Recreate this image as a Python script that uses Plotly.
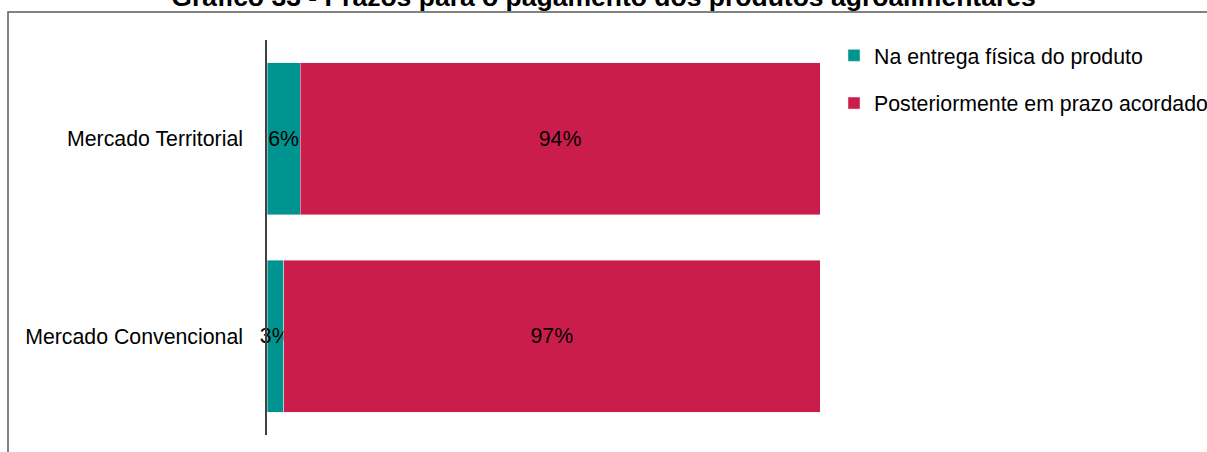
import plotly.graph_objects as go

# Data
categories = ["Mercado Territorial", "Mercado Convencional"]
na_entrega = [6, 3]
posteriormente = [94, 97]
series_names = ["Na entrega física do produto", "Posteriormente em prazo acordado"]
colors = ["#009490", "#CB1D4C"]
title_text = "Gráfico 33 - Prazos para o pagamento dos produtos agroalimentares"

FONT = "Liberation Sans, Arial, sans-serif"
FS = 21.3

fig = go.Figure()
for i, (name, vals) in enumerate(zip(series_names, [na_entrega, posteriormente])):
    fig.add_trace(go.Bar(
        y=categories,
        x=vals,
        name=name,
        orientation="h",
        marker=dict(color=colors[i], line=dict(color="rgba(235,235,235,0.8)", width=0.6)),
        text=[f"{v}%" for v in vals],
        textposition="inside",
        insidetextanchor="middle",
        textangle=0,
        cliponaxis=False,
        textfont=dict(family=FONT, size=FS, color="black"),
        legendgroup=f"g{i}",
        hoverinfo="skip",
    ))

W, H = 1207, 452
ml, mr, mt, mb = 267, 387, 40, 17
pw, ph = W - ml - mr, H - mt - mb

# outer frame of the chart area (extends past the page edges)
fig.add_shape(
    type="rect", xref="paper", yref="paper",
    x0=-(ml - 8) / pw, x1=1 + (mr + 20) / pw,
    y0=-(mb + 20) / ph, y1=1 + (mt - 12) / ph,
    line=dict(color="#595959", width=1.5), fillcolor="rgba(0,0,0,0)", layer="below",
)

fig.update_layout(
    width=W, height=H,
    barmode="stack",
    bargap=0.23,
    margin=dict(l=ml, r=mr, t=mt, b=mb, pad=0, autoexpand=False),
    paper_bgcolor="white", plot_bgcolor="white",
    font=dict(family=FONT, size=FS, color="black"),
    uniformtext=dict(minsize=FS, mode="show"),
    title=dict(
        text=f"<b>{title_text}</b>",
        x=0.5, xanchor="center",
        y=1 - 6 / H, yref="container", yanchor="bottom",
        font=dict(family=FONT, size=26.5, color="black"),
        pad=dict(t=0, b=0),
    ),
    showlegend=True,
    legend=dict(
        x=1 + 14 / pw, xanchor="left",
        y=1 + 5 / ph, yanchor="top",
        traceorder="grouped",
        tracegroupgap=17,
        itemwidth=30,
        font=dict(family=FONT, size=FS, color="black"),
        bgcolor="rgba(0,0,0,0)",
    ),
    xaxis=dict(
        range=[0, 100], visible=False, showgrid=False, zeroline=False, fixedrange=True,
    ),
    yaxis=dict(
        type="category",
        range=[1.5, -0.5],
        showline=True, linecolor="#404040", linewidth=1.5,
        ticks="", showgrid=False, zeroline=False,
        ticklabelstandoff=18,
        tickfont=dict(family=FONT, size=FS, color="black"),
    ),
)

fig.write_html("out.html")
